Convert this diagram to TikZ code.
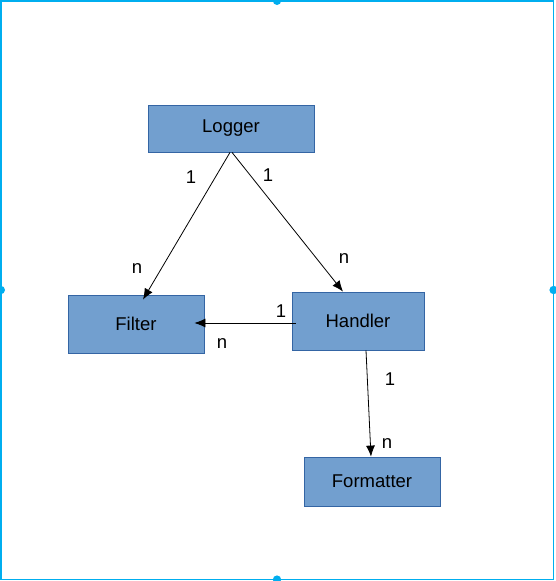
\documentclass[tikz,border=0pt]{standalone}
\usepackage{fontspec}
\setmainfont{Liberation Sans}
\usetikzlibrary{arrows.meta}
\definecolor{boxfill}{RGB}{114,159,207}
\definecolor{boxline}{RGB}{52,101,164}
\definecolor{frameblue}{RGB}{0,174,239}
\begin{document}
\begin{tikzpicture}[x=1pt,y=-1pt,
  cls/.style={draw=boxline,line width=0.8pt,fill=boxfill,minimum width=#1,inner sep=0pt,font=\fontsize{18.5}{21}\selectfont,text=black},
  lbl/.style={inner sep=0pt,font=\fontsize{18.5}{21}\selectfont,text=black},
  arr/.style={-{Latex[length=11pt,width=9pt]},line width=0.8pt,black}]
\useasboundingbox (0,0) rectangle (555,581);
\fill[white] (0,0) rectangle (555,581);
\draw[frameblue,line width=1.6pt] (0.8,0.8) rectangle (553.6,579.6);
\foreach \p/\n in {{(277,0.8)}/h1,{(0.8,290)}/h2,{(553.6,290)}/h3,{(277,579.6)}/h4}
  \fill[frameblue] \p circle (4.2pt);
\node[cls=166pt,minimum height=47pt] (logger) at (231,128.5) {Logger};
\node[cls=136pt,minimum height=58pt] (filter) at (136,324) {Filter};
\node[cls=132pt,minimum height=58pt] (handler) at (358,321) {Handler};
\node[cls=136pt,minimum height=49pt] (formatter) at (372,481.5) {Formatter};
\draw[arr] ([xshift=-1pt]logger.south) -- ([xshift=7pt,yshift=-5pt]filter.north);
\draw[arr] ([xshift=1pt]logger.south) -- ([xshift=-15pt]handler.north);
\draw[arr] ([xshift=4pt,yshift=-2pt]handler.west) -- ([xshift=-10pt,yshift=1pt]filter.east);
\draw[arr] ([xshift=8pt]handler.south) -- ([xshift=-1pt]formatter.north);
\node[lbl] (l1) at (191,177) {1};
\node[lbl] (l2) at (137,269) {n};
\node[lbl] (l3) at (268,175) {1};
\node[lbl] (l4) at (344,259) {n};
\node[lbl] (l5) at (281,311) {1};
\node[lbl] (l6) at (222,344) {n};
\node[lbl] (l7) at (390,379) {1};
\node[lbl] (l8) at (387,444) {n};
\end{tikzpicture}
\end{document}
